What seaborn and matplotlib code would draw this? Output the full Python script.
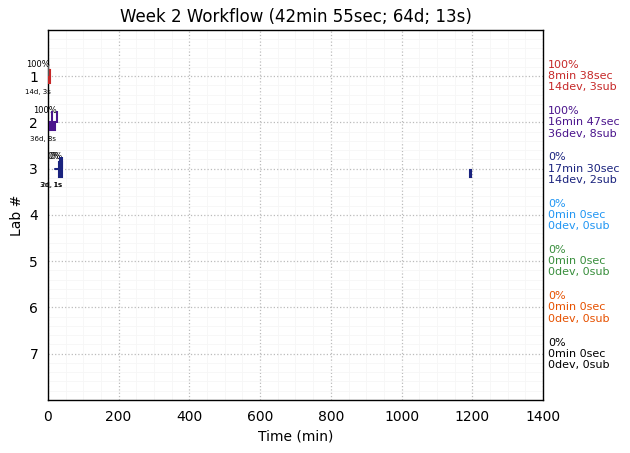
import matplotlib
matplotlib.use("Agg")
import matplotlib.pyplot as plt
from matplotlib.ticker import AutoMinorLocator
import seaborn as sns
import pandas as pd

labs = [1, 2, 3, 4, 5, 6, 7]
lab_colors = ["#c62828", "#4a148c", "#1a237e", "#2196f3", "#388e3c", "#e65100", "#000000"]
completion = ["100%", "100%", "0%", "0%", "0%", "0%", "0%"]
durations = ["8min 38sec", "16min 47sec", "17min 30sec", "0min 0sec", "0min 0sec", "0min 0sec", "0min 0sec"]
dev_sub = ["14dev, 3sub", "36dev, 8sub", "14dev, 2sub", "0dev, 0sub", "0dev, 0sub", "0dev, 0sub", "0dev, 0sub"]

# work sessions: lab, start (min), duration (min)
sess_lab = [1, 2, 3, 3]
sess_start = [1, 7, 31, 1194]
sess_dur = [5, 12, 10, 2]
sess_offset = [0.0, 0.08, 0.02, 0.1]
sess_height = [0.28, 0.16, 0.32, 0.14]

# submissions (tick marks above)
sub_lab = [1, 2, 2, 3, 3]
sub_time = [1, 13, 25, 34, 40]
sub_color = ["#555555", "#4a148c", "#4a148c", "#1a237e", "#1a237e"]

# horizontal trace
trace_lab = [3]
trace_start = [20]
trace_end = [40]

# small annotations
ann_lab = [1, 2, 3, 3]
ann_pct = ["100%", "100%", "0%", "0%"]
ann_pct_x = [-28, -8, 19, 23]
ann_dev = ["14d, 3s", "36d, 8s", "3d, 1s", "2d, 1s"]
ann_dev_x = [-28, -15, 8, 11]

sns.set_theme(style="white")
plt.rcParams["font.family"] = ["DejaVu Sans"]
plt.rcParams["text.color"] = "black"
plt.rcParams["axes.labelcolor"] = "black"
plt.rcParams["xtick.color"] = "black"
plt.rcParams["ytick.color"] = "black"

fig = plt.figure(figsize=(6.3, 4.53), dpi=100)
ax = fig.add_axes([0.076, 0.117, 0.786, 0.817])

color_of = dict(zip(labs, lab_colors))

for l, s, d, o, h in zip(sess_lab, sess_start, sess_dur, sess_offset, sess_height):
    ax.barh(l + o, d, left=s, height=h, color=color_of[l],
            edgecolor=color_of[l], linewidth=1.5, zorder=3)

sub_df = pd.DataFrame({"t": sub_time, "y": [l - 0.12 for l in sub_lab],
                       "c": sub_color})
sns.scatterplot(data=sub_df, x="t", y="y", hue="c",
                palette={c: c for c in set(sub_color)},
                marker="|", s=70, linewidth=1.5, legend=False, ax=ax, zorder=4)

for l, a, b in zip(trace_lab, trace_start, trace_end):
    ax.plot([a, b], [l, l], color=color_of[l], lw=1.5, zorder=3)

for l, p, px, d, dx in zip(ann_lab, ann_pct, ann_pct_x, ann_dev, ann_dev_x):
    ax.text(px, l - 0.26, p, fontsize=6, ha="center", va="center", color="black", clip_on=False)
    ax.text(dx, l + 0.35, d, fontsize=5, ha="center", va="center", color="black", clip_on=False)

for l, c, p, du, ds in zip(labs, lab_colors, completion, durations, dev_sub):
    ax.text(1.01, l, f"{p}\n{du}\n{ds}", transform=ax.get_yaxis_transform(),
            color=c, fontsize=8, va="center", ha="left", linespacing=1.15, clip_on=False)

ax.set_xlim(0, 1400)
ax.set_ylim(8, 0)
ax.set_yticks(labs)
ax.set_xticks(range(0, 1401, 200))
ax.xaxis.set_minor_locator(AutoMinorLocator())
ax.yaxis.set_minor_locator(AutoMinorLocator())
ax.grid(which="major", color="#bbbbbb", linestyle=":", linewidth=0.9)
ax.grid(which="minor", color="#f6f6f6", linestyle="-", linewidth=0.6)
ax.set_axisbelow(True)
ax.tick_params(axis="both", which="both", length=0, labelsize=10)
ax.tick_params(axis="y", pad=7)
ax.tick_params(axis="x", pad=7)
for sp in ax.spines.values():
    sp.set_color("black")
    sp.set_linewidth(1)
ax.set_xlabel("Time (min)", fontsize=10)
ax.set_ylabel("Lab #", fontsize=10, labelpad=4)
ax.set_title("Week 2 Workflow (42min 55sec; 64d; 13s)", fontsize=12)

fig.savefig("out.png", dpi=100)
